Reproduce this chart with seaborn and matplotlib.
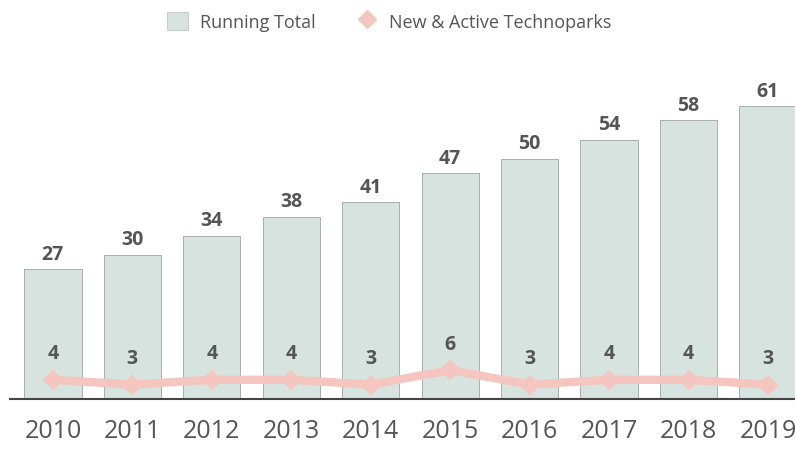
import pandas as pd
import matplotlib.pyplot as plt
import seaborn as sns
from matplotlib.patches import Patch
from matplotlib.lines import Line2D

# datos
years = ["2010", "2011", "2012", "2013", "2014", "2015", "2016", "2017", "2018", "2019"]
running_total = [27, 30, 34, 38, 41, 47, 50, 54, 58, 61]
new_active = [4, 3, 4, 4, 3, 6, 3, 4, 4, 3]

df = pd.DataFrame({"year": years, "total": running_total, "new": new_active})

sns.set_style("white")
plt.rcParams["font.family"] = ["Open Sans", "DejaVu Sans"]

fig = plt.figure(figsize=(7.95, 4.52), dpi=100)
ax = fig.add_axes([10 / 795, 52 / 452, 1 - 10 / 795, 340 / 452])

bar_color = "#d6e3de"
line_color = "#f5c6bf"
text_color = "#555555"

sns.barplot(x="year", y="total", data=df, ax=ax, color=bar_color, width=0.72,
            edgecolor="#a8aeab", linewidth=0.7, saturation=1)

sns.pointplot(x="year", y="new", data=df, ax=ax, color=line_color, markers="D",
              linewidth=6, markersize=6)

# etiquetas de barras
for i, v in enumerate(running_total):
    ax.annotate(str(v), (i, v), xytext=(0, 4), textcoords="offset points",
                ha="center", va="bottom", fontsize=14, fontweight="bold", color=text_color)

# etiquetas de la linea
for i, v in enumerate(new_active):
    ax.annotate(str(v), (i, v), xytext=(0, 12), textcoords="offset points",
                ha="center", va="bottom", fontsize=14, fontweight="bold", color=text_color)

ax.set_xlim(-0.54, 9.34)
ax.set_ylim(0, 70.8)
ax.set_xlabel("")
ax.set_ylabel("")
ax.set_yticks([])
for s in ["top", "right", "left"]:
    ax.spines[s].set_visible(False)
ax.spines["bottom"].set_color("#444444")
ax.spines["bottom"].set_linewidth(1.5)
ax.tick_params(axis="x", length=0, pad=14, labelsize=18, labelcolor=text_color)

handles = [
    Patch(facecolor=bar_color, edgecolor="#c3cdc9", linewidth=0.7),
    Line2D([], [], color=line_color, marker="D", markersize=9, linestyle="none"),
]
labels = ["Running Total", "New & Active Technoparks"]
fig.legend(handles, labels, loc="upper center", bbox_to_anchor=(0.49, 1.008), ncol=2,
           frameon=False, fontsize=13, labelcolor=text_color, handlelength=1.15,
           handleheight=1.15, handletextpad=0.65, columnspacing=2.3)

fig.savefig("out.png", dpi=100)
